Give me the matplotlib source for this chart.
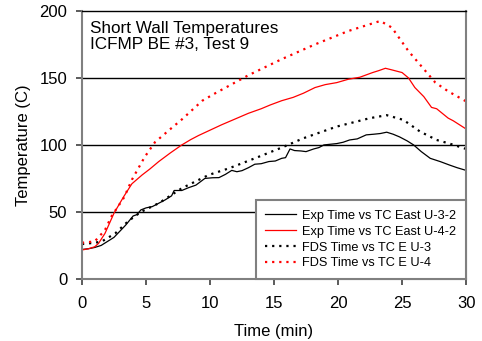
import matplotlib
matplotlib.use("Agg")
import matplotlib.pyplot as plt

plt.rcParams['font.family'] = ['Liberation Sans', 'DejaVu Sans']

# Exp Time vs TC East U-3-2 (black solid)
t_exp3 = [0, 0.5, 1, 1.5, 2, 2.5, 3, 3.4, 4, 4.3, 4.6, 5, 5.5, 6, 6.5, 7, 7.2, 7.8, 8.3, 8.9,
          9.6, 10.2, 10.7, 11.2, 11.7, 12.1, 12.5, 13, 13.5, 14, 14.6, 15.1, 15.6, 15.9, 16.25,
          16.6, 17.1, 17.5, 18.1, 18.5, 18.9, 19.4, 19.9, 20.4, 20.9, 21.5, 22.2, 22.8, 23.3,
          23.8, 24.3, 24.8, 25.4, 25.9, 26.5, 27.2, 28, 28.7, 29.3, 30]
y_exp3 = [22, 22.5, 23.5, 25, 28, 31, 36, 40, 47, 48, 51.5, 53, 54, 56.5, 59, 62, 66, 66, 68, 70,
          75, 75.5, 75.6, 78, 81, 80, 80.8, 83, 85.6, 86, 87.6, 88, 90, 90.5, 97,
          95.8, 95.5, 95, 97, 98, 100, 100.5, 101, 102, 103.7, 104.5, 107.5, 108, 108.5,
          109.5, 108, 106, 103, 100, 95, 90, 87.5, 85, 83, 81]

# Exp Time vs TC East U-4-2 (red solid)
t_exp4 = [0, 0.5, 1, 1.3, 1.8, 2.5, 3.26, 3.9, 4.7, 5.3, 6, 6.9, 7.8, 8.5, 9.1, 10, 10.9, 12, 13,
          14, 14.7, 15.6, 16.5, 17.3, 18.2, 19, 19.9, 20.8, 21.7, 22.7, 23.2, 23.7, 24.2, 25,
          25.5, 26, 26.7, 27.3, 27.7, 28.6, 29, 29.9, 30]
y_exp4 = [21.6, 22.5, 24, 26.6, 34, 49, 61.4, 71, 77.6, 82, 87.6, 94, 100, 104, 107, 111, 115, 119.5, 123.6,
          127, 129.8, 133, 135.5, 138.6, 142.8, 145, 146.5, 149, 150.5, 154, 155.5, 157.2, 156, 154,
          150, 142.8, 136, 128, 127, 120, 118, 112.5, 112]

# FDS Time vs TC E U-3 (black dotted)
t_fds3 = [0, 1, 1.56, 2.6, 3.6, 4.6, 6, 7.8, 9.9, 11.5, 13.5, 15.6, 17.3, 19.9, 22.5, 23.8,
          25.1, 26.4, 27.7, 28.7, 30]
y_fds3 = [26, 27, 28, 34, 43, 50, 56.5, 67.7, 77.6, 82.6, 90, 98, 105, 113.7, 120, 122.2,
          118.7, 110, 103.7, 101, 97]

# FDS Time vs TC E U-4 (red dotted)
t_fds4 = [0, 1, 1.8, 2.3, 3.3, 3.9, 4.9, 5.7, 6.8, 7.8, 9.4, 10.4, 13, 15.6, 18.2, 20.8, 23.3,
          24.2, 25.5, 26.6, 27.6, 28.6, 30]
y_fds4 = [27, 28, 36.5, 46.6, 61, 74, 91, 102, 111, 119, 133, 138.5, 152, 164, 175, 185, 192.5,
          187.6, 170, 157.7, 146.5, 140, 132.5]

fig = plt.figure(figsize=(4.82, 3.41), dpi=100)
ax = fig.add_axes([0.170, 0.182, 0.797, 0.786])

ax.plot(t_exp3, y_exp3, color="black", linewidth=0.9, label="Exp Time vs TC East U-3-2")
ax.plot(t_exp4, y_exp4, color="red", linewidth=0.9, label="Exp Time vs TC East U-4-2")
ax.plot(t_fds3, y_fds3, color="black", linewidth=1.6, dashes=(1, 2.2), label="FDS Time vs TC E U-3")
ax.plot(t_fds4, y_fds4, color="red", linewidth=1.6, dashes=(1, 2.2), label="FDS Time vs TC E U-4")

ax.set_xlim(0, 30)
ax.set_ylim(0, 200)
ax.set_xticks([0, 5, 10, 15, 20, 25, 30])
ax.set_yticks([0, 50, 100, 150, 200])
for yv in [50, 100, 150]:
    ax.axhline(yv, color="black", linewidth=1, zorder=0)

for s in ax.spines.values():
    s.set_color("#808080")
    s.set_linewidth(1.5)
ax.spines["top"].set_color("black")
ax.spines["top"].set_linewidth(1)
ax.tick_params(labelsize=12, length=4.5, width=1.2, color="#404040")
ax.tick_params(axis="x", pad=8)
ax.tick_params(axis="y", pad=6)

ax.set_xlabel("Time (min)", fontsize=12, labelpad=9)
ax.set_ylabel("Temperature (C)", fontsize=12, labelpad=6)

ax.text(0.02, 0.963, "Short Wall Temperatures\nICFMP BE #3, Test 9", transform=ax.transAxes,
        fontsize=12.3, va="top", ha="left", linespacing=1.1)

leg = ax.legend(loc="lower right", fontsize=9.2, fancybox=False, framealpha=1,
                edgecolor="#808080", borderaxespad=0, handlelength=2.4, labelspacing=0.3,
                borderpad=0.75, handletextpad=0.5)
leg.get_frame().set_linewidth(1.5)

fig.savefig("out.png", dpi=100)
